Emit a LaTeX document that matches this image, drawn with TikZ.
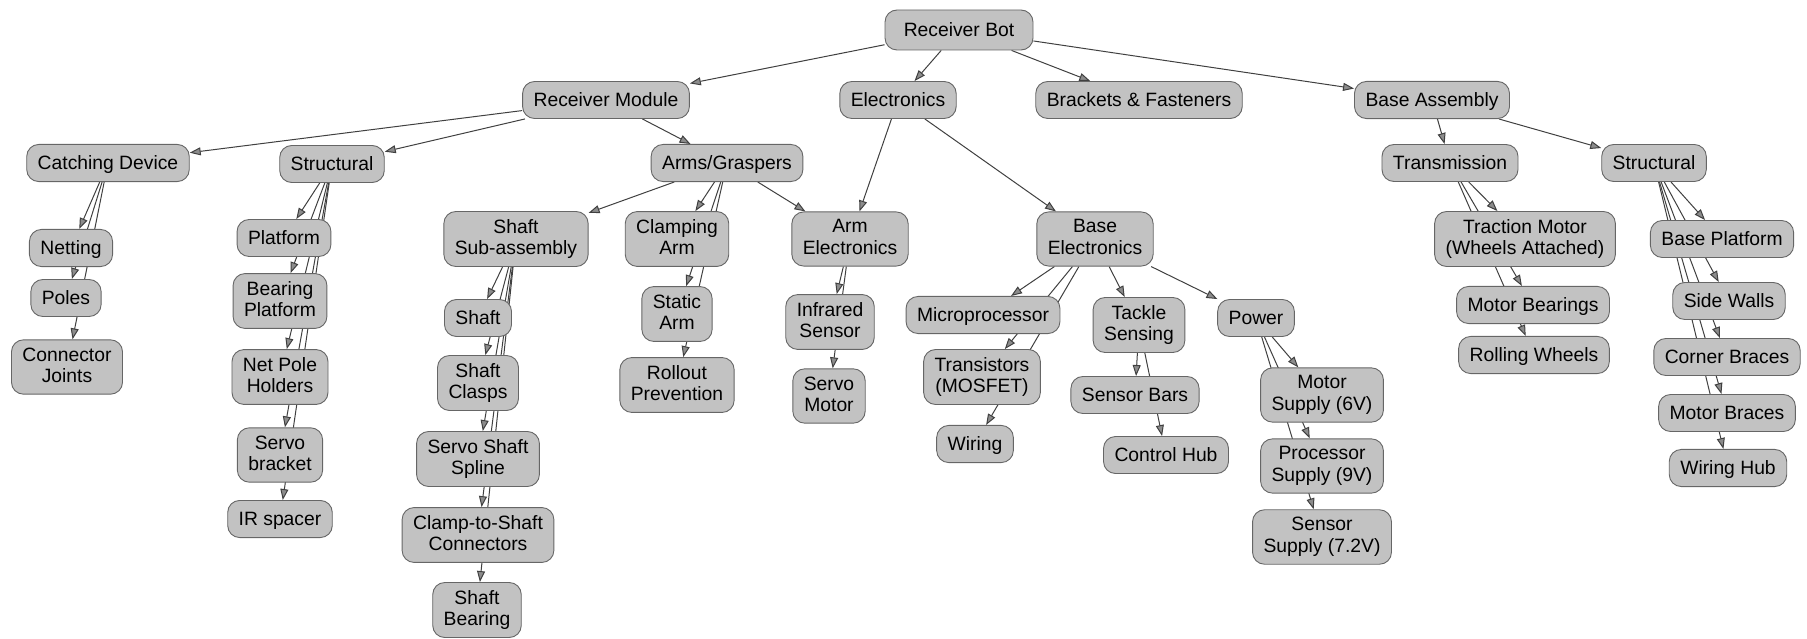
\documentclass[tikz,border=0pt]{standalone}
\usepackage{fontspec}
\setmainfont{Liberation Sans}
\usetikzlibrary{arrows.meta}
\pgfdeclarelayer{bg}
\pgfsetlayers{bg,main}
\newcommand\nodefont{\fontsize{19.3pt}{21.5pt}\selectfont}
\newcommand\lstrut{\rule[-3.9pt]{0pt}{21.5pt}}
\tikzset{
  box/.style={draw=black!60, line width=0.9pt, fill=black!24, rounded corners=12pt,
    inner xsep=11pt, inner ysep=7.75pt, align=center, font=\nodefont,
    execute at begin node={\lstrut}, execute at end node={\lstrut}},
  edge/.style={draw=black!75, line width=1pt,
    -{Triangle[length=11pt,width=8pt,fill=black!45]}}
}
\begin{document}
\begin{tikzpicture}[x=1pt,y=-1pt]
\useasboundingbox (0,0) rectangle (1807,639);
% level 0/1
\node[box, minimum width=148pt, minimum height=40pt] (rb) at (959,30) {Receiver Bot};
\node[box] (rm) at (606,100) {Receiver Module};
\node[box] (el) at (898,100) {Electronics};
\node[box] (bf) at (1139,100) {Brackets \& Fasteners};
\node[box] (ba) at (1432,100) {Base Assembly};
% level 2
\node[box] (cd) at (108,163) {Catching Device};
\node[box] (st1) at (332,164) {Structural};
\node[box] (ag) at (727,163) {Arms/Graspers};
\node[box] (tr) at (1450,163) {Transmission};
\node[box] (st2) at (1654,163) {Structural};
% catching device chain
\node[box] (ne) at (71,248) {Netting};
\node[box] (po) at (66,298) {Poles};
\node[box] (cj) at (67,367) {Connector\\Joints};
% structural left chain
\node[box] (pl) at (284,238) {Platform};
\node[box] (bpl) at (280,301) {Bearing\\Platform};
\node[box] (nph) at (280,377) {Net Pole\\Holders};
\node[box] (sbr) at (280,455) {Servo\\bracket};
\node[box] (ir) at (280,519) {IR spacer};
% shaft chain
\node[box] (ss) at (516,239) {Shaft\\Sub-assembly};
\node[box] (sh) at (478,318) {Shaft};
\node[box] (sc) at (478,383) {Shaft\\Clasps};
\node[box] (sss) at (478,459) {Servo Shaft\\Spline};
\node[box] (cts) at (478,535) {Clamp-to-Shaft\\Connectors};
\node[box] (sbe) at (477,610) {Shaft\\Bearing};
% clamping chain
\node[box] (ca) at (677,239) {Clamping\\Arm};
\node[box] (sa) at (677,314) {Static\\Arm};
\node[box] (rp) at (677,385) {Rollout\\Prevention};
% arm electronics
\node[box] (ae) at (850,239) {Arm\\Electronics};
\node[box] (is) at (830,322) {Infrared\\Sensor};
\node[box] (sm) at (829,396) {Servo\\Motor};
% base electronics
\node[box] (be) at (1095,239) {Base\\Electronics};
\node[box] (mp) at (983,315) {Microprocessor};
\node[box] (tmos) at (982,377) {Transistors\\(MOSFET)};
\node[box] (wi) at (975,444) {Wiring};
\node[box] (ts) at (1139,325) {Tackle\\Sensing};
\node[box] (sb) at (1135,395) {Sensor Bars};
\node[box] (ch) at (1166,455) {Control Hub};
\node[box] (pw) at (1256,318) {Power};
\node[box] (ms) at (1322,395) {Motor\\Supply (6V)};
\node[box] (ps) at (1322,466) {Processor\\Supply (9V)};
\node[box] (sup) at (1322,537) {Sensor\\Supply (7.2V)};
% transmission
\node[box] (tm) at (1525,239) {Traction Motor\\(Wheels Attached)};
\node[box] (mb) at (1533,305) {Motor Bearings};
\node[box] (rw) at (1534,355) {Rolling Wheels};
% structural right
\node[box] (bp) at (1722,239) {Base Platform};
\node[box] (sw) at (1729,301) {Side Walls};
\node[box] (cb) at (1727,357) {Corner Braces};
\node[box] (mbr) at (1727,413) {Motor Braces};
\node[box] (wh) at (1728,468) {Wiring Hub};

\begin{pgfonlayer}{bg}
\foreach \a/\b in {rb/rm, rb/el, rb/bf, rb/ba,
  rm/cd, rm/st1, rm/ag,
  cd/ne, cd/po, cd/cj,
  st1/pl, st1/bpl, st1/nph, st1/sbr, st1/ir,
  ag/ss, ag/ca, ag/sa, ag/rp, ag/ae,
  ss/sh, ss/sc, ss/sss, ss/cts, ss/sbe,
  el/ae, el/be,
  ae/is, ae/sm,
  be/mp, be/tmos, be/wi, be/ts, be/pw,
  ts/sb, ts/ch,
  pw/ms, pw/ps, pw/sup,
  ba/tr, ba/st2,
  tr/tm, tr/mb, tr/rw,
  st2/bp, st2/sw, st2/cb, st2/mbr, st2/wh}
  \draw[edge] (\a) -- (\b);
\end{pgfonlayer}
\end{tikzpicture}
\end{document}
